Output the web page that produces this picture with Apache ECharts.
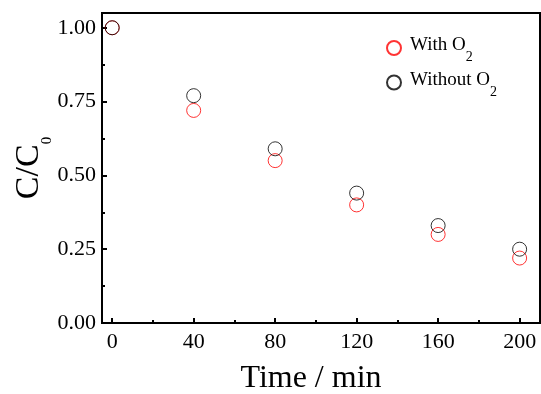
<!DOCTYPE html>
<html><head><meta charset="utf-8">
<script src="https://cdn.jsdelivr.net/npm/echarts@6/dist/echarts.min.js"></script>
<style>html,body{margin:0;padding:0;background:#fff}#c{width:541px;height:394px}</style>
</head><body><div id="c"></div>
<script>
var timeMin = [0, 40, 80, 120, 160, 200];
var withO2 = [1.00, 0.72, 0.55, 0.40, 0.30, 0.22];
var withoutO2 = [1.00, 0.77, 0.59, 0.44, 0.33, 0.25];
var xMajor = [0, 40, 80, 120, 160, 200];
var xMinor = [20, 60, 100, 140, 180];
var yMajor = [0, 0.25, 0.5, 0.75, 1.0];
var yMinor = [0.125, 0.375, 0.625, 0.875];

var FONT = '"Liberation Serif", "Times New Roman", serif';
function pairs(xs, ys){ return xs.map(function(x,i){ return [x, ys[i]]; }); }

var chart = echarts.init(document.getElementById('c'));
chart.setOption({
  animation: false,
  grid: { left: 102, right: 1, top: 13, bottom: 71, containLabel: false, outerBoundsMode: 'none', show: true, borderColor: '#000', borderWidth: 2, backgroundColor: 'transparent' },
  legend: {
    orient: 'vertical', left: 381, top: 31, itemWidth: 14, itemHeight: 14, itemGap: 6,
    icon: 'circle',
    data: ['With O2', 'Without O2'],
    formatter: function(n){ return '{a|' + n.slice(0, -1) + '}{s|2}'; },
    textStyle: {
      fontFamily: FONT, color: '#000',
      rich: {
        a: { fontFamily: FONT, fontSize: 19, lineHeight: 21, padding: [0,0,5,4], color: '#000' },
        s: { fontFamily: FONT, fontSize: 14, lineHeight: 14, verticalAlign: 'top', padding: [13,0,0,0], color: '#000' }
      }
    }
  },
  xAxis: [{
    type: 'value', min: -5, max: 210, position: 'bottom',
    name: 'Time / min', nameLocation: 'middle', nameGap: 40, nameMoveOverlap: false,
    nameTextStyle: { fontFamily: FONT, fontSize: 32, lineHeight: 32, color: '#000', padding: [0,20,0,0] },
    axisLine: { show: true, onZero: false, lineStyle: { color: '#000', width: 2 } },
    axisTick: { show: true, inside: true, length: 5, lineStyle: { width: 2, color: '#000' }, customValues: xMajor },
    axisLabel: { show: true, fontFamily: FONT, fontSize: 22, color: '#000', margin: 8, customValues: xMajor, formatter: function(v){ return String(v); } },
    splitLine: { show: false }
  }, {
    type: 'value', min: -5, max: 210, position: 'bottom',
    axisLine: { show: false, onZero: false },
    axisTick: { show: true, inside: true, length: 3, lineStyle: { width: 2, color: '#000' }, customValues: xMinor },
    axisLabel: { show: false },
    splitLine: { show: false }
  }],
  yAxis: [{
    type: 'value', min: 0, max: 1.05, position: 'left',
    name: '{a|C/C}{s|0}', nameLocation: 'middle', nameGap: 55, nameRotate: 90, nameMoveOverlap: false,
    nameTextStyle: {
      fontFamily: FONT, color: '#000',
      rich: {
        a: { fontFamily: FONT, fontSize: 34, lineHeight: 36, color: '#000' },
        s: { fontFamily: FONT, fontSize: 15, lineHeight: 15, verticalAlign: 'top', padding: [29,0,0,0], color: '#000' }
      }
    },
    axisLine: { show: true, onZero: false, lineStyle: { color: '#000', width: 2 } },
    axisTick: { show: true, inside: true, length: 5, lineStyle: { width: 2, color: '#000' }, customValues: yMajor },
    axisLabel: { show: true, fontFamily: FONT, fontSize: 22, color: '#000', margin: 6, customValues: yMajor, formatter: function(v){ return v.toFixed(2); } },
    splitLine: { show: false }
  }, {
    type: 'value', min: 0, max: 1.05, position: 'left',
    axisLine: { show: false, onZero: false },
    axisTick: { show: true, inside: true, length: 3, lineStyle: { width: 2, color: '#000' }, customValues: yMinor },
    axisLabel: { show: false },
    splitLine: { show: false }
  }],
  series: [{
    name: 'With O2', type: 'scatter', symbol: 'circle', symbolSize: 14,
    itemStyle: { color: 'rgba(255,255,255,0)', borderColor: '#ff0000', borderWidth: 1 },
    data: pairs(timeMin, withO2)
  }, {
    name: 'Without O2', type: 'scatter', symbol: 'circle', symbolSize: 14,
    itemStyle: { color: 'rgba(255,255,255,0)', borderColor: '#000000', borderWidth: 1 },
    data: pairs(timeMin, withoutO2)
  }]
});
</script></body></html>
